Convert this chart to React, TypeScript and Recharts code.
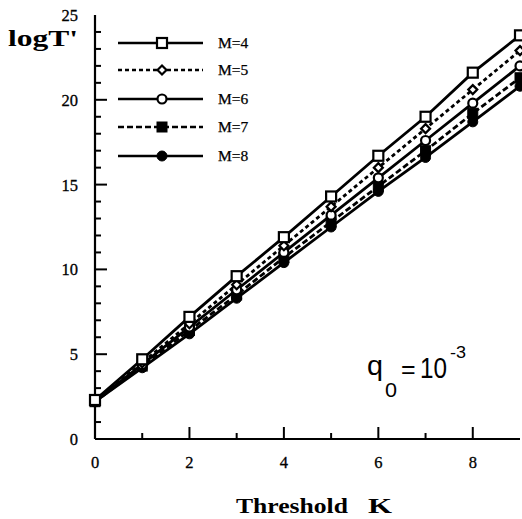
import React from 'react';
import { LineChart, Line, XAxis, YAxis, Legend, Customized } from 'recharts';

const kValues = [0, 1, 2, 3, 4, 5, 6, 7, 8, 9];
const seriesM4 = [2.3, 4.7, 7.2, 9.6, 11.9, 14.3, 16.7, 19.0, 21.6, 23.8];
const seriesM5 = [2.2, 4.5, 6.8, 9.1, 11.4, 13.7, 16.0, 18.3, 20.6, 22.9];
const seriesM6 = [2.2, 4.4, 6.6, 8.8, 11.0, 13.2, 15.4, 17.6, 19.8, 22.0];
const seriesM7 = [2.2, 4.3, 6.4, 8.5, 10.7, 12.8, 14.9, 17.0, 19.2, 21.3];
const seriesM8 = [2.2, 4.2, 6.2, 8.3, 10.4, 12.5, 14.6, 16.6, 18.7, 20.8];
const seriesNames = ['M=4', 'M=5', 'M=6', 'M=7', 'M=8'];
const xTicks = [0, 1, 2, 3, 4, 5, 6, 7, 8, 9];
const yTicks = [0, 1, 2, 3, 4, 5, 6, 7, 8, 9, 10, 11, 12, 13, 14, 15, 16, 17, 18, 19, 20, 21, 22, 23, 24, 25];

const data = kValues.map((k, i) => ({
  k,
  m4: seriesM4[i],
  m5: seriesM5[i],
  m6: seriesM6[i],
  m7: seriesM7[i],
  m8: seriesM8[i],
}));

type MarkerType = 'openSquare' | 'openDiamond' | 'openCircle' | 'filledSquare' | 'filledCircle';

const seriesDefs: { key: string; name: string; dash?: string; marker: MarkerType }[] = [
  { key: 'm4', name: seriesNames[0], marker: 'openSquare' },
  { key: 'm5', name: seriesNames[1], dash: '4 3', marker: 'openDiamond' },
  { key: 'm6', name: seriesNames[2], marker: 'openCircle' },
  { key: 'm7', name: seriesNames[3], dash: '6 3', marker: 'filledSquare' },
  { key: 'm8', name: seriesNames[4], marker: 'filledCircle' },
];

const SERIF = "'Liberation Serif', 'Times New Roman', serif";
const SANS = "'Liberation Sans', Arial, sans-serif";

function Marker({ cx, cy, type }: { cx: number; cy: number; type: MarkerType }) {
  if (cx == null || cy == null) return null;
  switch (type) {
    case 'openSquare':
      return <rect x={cx - 5} y={cy - 5} width={10} height={10} fill="#fff" stroke="#000" strokeWidth={2.2} />;
    case 'openDiamond':
      return (
        <polygon
          points={`${cx},${cy - 4.5} ${cx + 4.5},${cy} ${cx},${cy + 4.5} ${cx - 4.5},${cy}`}
          fill="#fff"
          stroke="#000"
          strokeWidth={2.2}
        />
      );
    case 'openCircle':
      return <circle cx={cx} cy={cy} r={4.5} fill="#fff" stroke="#000" strokeWidth={2.2} />;
    case 'filledSquare':
      return <rect x={cx - 5} y={cy - 5} width={10} height={10} fill="#000" stroke="#000" strokeWidth={1} />;
    case 'filledCircle':
      return <circle cx={cx} cy={cy} r={5} fill="#000" stroke="#000" strokeWidth={1} />;
  }
  return null;
}

const LeftTick = (props: any) => {
  const { x, y, payload } = props;
  const v = payload.value as number;
  const major = v % 5 === 0;
  return (
    <g>
      {v !== 0 && v !== 25 && (
        <line x1={x} x2={x + (major ? 12 : 6)} y1={y} y2={y} stroke="#000" strokeWidth={2} />
      )}
      {major && (
        <text x={x - 17} y={y} dy="0.36em" textAnchor="end" fontFamily={SERIF} fontSize={16.5} stroke="#000" strokeWidth={0.3} fill="#000">
          {v}
        </text>
      )}
    </g>
  );
};

const RightTick = (props: any) => {
  const { x, y, payload } = props;
  const v = payload.value as number;
  const major = v % 5 === 0;
  if (v === 0 || v === 25) return <g />;
  return <line x1={x} x2={x - (major ? 12 : 6)} y1={y} y2={y} stroke="#000" strokeWidth={2} />;
};

const BottomTick = (props: any) => {
  const { x, y, payload } = props;
  const v = payload.value as number;
  const major = v % 2 === 0;
  return (
    <g>
      {v > 0 && v < 9 && <line x1={x} x2={x} y1={y} y2={y - (major ? 12 : 6)} stroke="#000" strokeWidth={2} />}
      {major && (
        <text x={x} y={y + 29} textAnchor="middle" fontFamily={SERIF} fontSize={16.5} stroke="#000" strokeWidth={0.3} fill="#000">
          {v}
        </text>
      )}
    </g>
  );
};

const LegendContent = () => {
  const rowYs = [18, 45, 74, 102, 131];
  return (
    <svg width={170} height={150} style={{ display: 'block', overflow: 'visible' }}>
      {seriesDefs.map((s, i) => (
        <g key={s.key}>
          <line x1={8} x2={93} y1={rowYs[i]} y2={rowYs[i]} stroke="#000" strokeWidth={2.4} strokeDasharray={s.dash} />
          <Marker cx={52} cy={rowYs[i]} type={s.marker} />
          <text x={108} y={rowYs[i] + 5} fontFamily={SERIF} fontSize={15.5} stroke="#000" strokeWidth={0.25} fill="#000">
            {s.name}
          </text>
        </g>
      ))}
    </svg>
  );
};

const Annotations = () => (
  <g>
    <text x={8} y={46} fontFamily={SERIF} fontWeight="bold" fontSize={23} textLength={70} lengthAdjust="spacingAndGlyphs" fill="#000">
      logT'
    </text>
    <text x={236} y={513} fontFamily={SERIF} fontWeight="bold" fontSize={21} fill="#000">
      <tspan x={236} y={513} textLength={112} lengthAdjust="spacingAndGlyphs">Threshold</tspan>
      <tspan x={368} y={513} textLength={24} lengthAdjust="spacingAndGlyphs">K</tspan>
    </text>
    <text fontFamily={SANS} fill="#000">
      <tspan x={367} y={375} fontSize={27} textLength={16} lengthAdjust="spacingAndGlyphs">q</tspan>
      <tspan x={385} y={397} fontSize={20} textLength={12} lengthAdjust="spacingAndGlyphs">0</tspan>
      <tspan x={401} y={378} fontSize={25}>=</tspan>
      <tspan x={420} y={378} fontSize={29} textLength={27} lengthAdjust="spacingAndGlyphs">10</tspan>
    </text>
    <text x={450} y={358} fontFamily={SANS} fontSize={17} textLength={16} lengthAdjust="spacingAndGlyphs" fill="#000">
      -3
    </text>
  </g>
);

export default function App() {
  return (
    <div style={{ position: 'absolute', left: 0, top: 0, width: 522, height: 519, background: '#fff' }}>
      <LineChart width={522} height={519} data={data} margin={{ top: 15, right: 2, bottom: 50, left: 0 }}>
        <XAxis
          dataKey="k"
          type="number"
          domain={[0, 9]}
          ticks={xTicks}
          interval={0}
          height={30}
          tickSize={0}
          tickMargin={0}
          tickLine={false}
          tick={<BottomTick />}
          axisLine={{ stroke: '#000', strokeWidth: 2.2 }}
        />
        <XAxis
          xAxisId="top"
          orientation="top"
          type="number"
          domain={[0, 9]}
          height={0}
          tick={false}
          tickLine={false}
          axisLine={{ stroke: '#000', strokeWidth: 2.2 }}
        />
        <YAxis
          type="number"
          domain={[0, 25]}
          ticks={yTicks}
          interval={0}
          width={95}
          tickSize={0}
          tickMargin={0}
          tickLine={false}
          tick={<LeftTick />}
          axisLine={{ stroke: '#000', strokeWidth: 2.2 }}
        />
        <YAxis
          yAxisId="right"
          orientation="right"
          type="number"
          domain={[0, 25]}
          ticks={yTicks}
          interval={0}
          width={0}
          tickSize={0}
          tickMargin={0}
          tickLine={false}
          tick={<RightTick />}
          axisLine={{ stroke: '#000', strokeWidth: 2.2 }}
        />
        {[...seriesDefs].reverse().map((s) => (
          <Line
            key={s.key}
            dataKey={s.key}
            name={s.name}
            type="linear"
            stroke="#000"
            strokeWidth={2.8}
            strokeDasharray={s.dash}
            isAnimationActive={false}
            dot={(p: any) => <Marker key={`${s.key}-${p.index}`} cx={p.cx} cy={p.cy} type={s.marker} />}
            activeDot={false}
          />
        ))}
        <Legend
          layout="vertical"
          align="center"
          verticalAlign="middle"
          content={<LegendContent />}
          wrapperStyle={{ left: 110, top: 25, width: 170, height: 150 }}
        />
        <Customized component={<Annotations />} />
      </LineChart>
    </div>
  );
}
